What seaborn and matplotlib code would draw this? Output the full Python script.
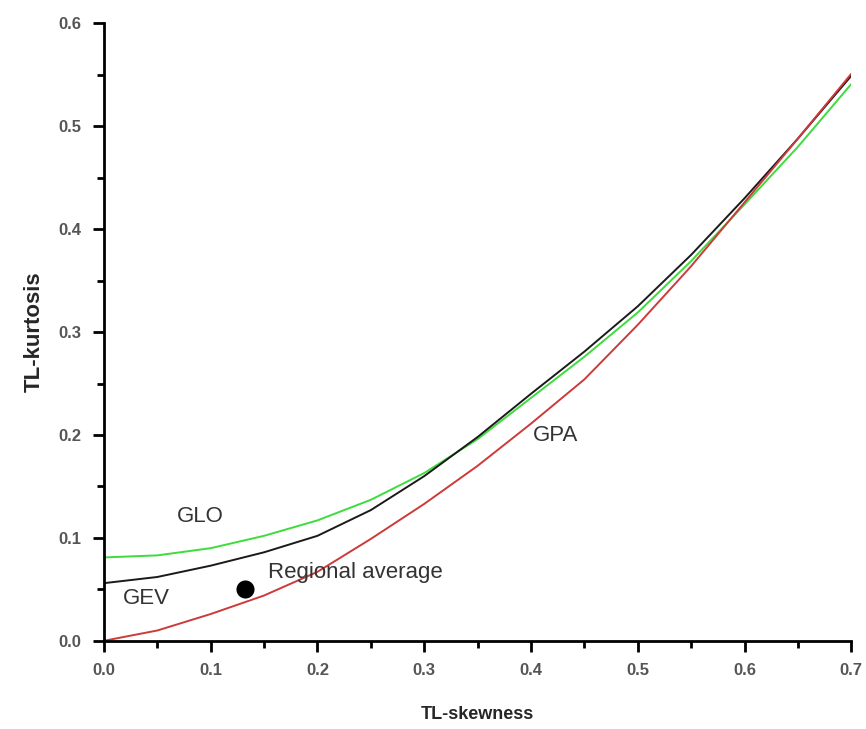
import numpy as np
import pandas as pd
import matplotlib
matplotlib.use("Agg")
import matplotlib.pyplot as plt
import seaborn as sns
from matplotlib.ticker import MultipleLocator, FormatStrFormatter

# TL-skewness grid and TL-kurtosis
skew = [0.0, 0.05, 0.10, 0.15, 0.20, 0.25, 0.30, 0.35, 0.40, 0.45, 0.50, 0.55, 0.60, 0.65, 0.70]
glo = [0.081, 0.083, 0.090, 0.102, 0.117, 0.137, 0.163, 0.196, 0.236, 0.276, 0.319, 0.369, 0.424, 0.480, 0.541]
gev = [0.056, 0.062, 0.073, 0.086, 0.102, 0.127, 0.160, 0.198, 0.240, 0.281, 0.325, 0.375, 0.430, 0.488, 0.549]
gpa = [0.000, 0.010, 0.026, 0.044, 0.067, 0.099, 0.133, 0.170, 0.211, 0.254, 0.307, 0.364, 0.426, 0.488, 0.551]

reg_skew = [0.132]
reg_kurt = [0.050]

curves = pd.DataFrame({
    "skew": skew * 3,
    "kurt": glo + gev + gpa,
    "dist": ["GLO"] * len(skew) + ["GEV"] * len(skew) + ["GPA"] * len(skew),
})
colors = {"GLO": "#3ddc3d", "GEV": "#1a1a1a", "GPA": "#cc3a3a"}

sns.set_style("ticks")
plt.rcParams["font.family"] = ["Liberation Sans", "DejaVu Sans"]

fig = plt.figure(figsize=(8.66, 7.29), dpi=100)
ax = fig.add_axes([0.120, 0.121, 0.863, 0.847])

sns.lineplot(data=curves, x="skew", y="kurt", hue="dist", palette=colors,
             linewidth=1.4, legend=False, ax=ax, sort=False)
sns.scatterplot(x=reg_skew, y=reg_kurt, color="black", s=200, ax=ax, zorder=5)

txt = dict(fontsize=16, color="#333333", va="center")
ax.text(0.090, 0.121, "GLO", ha="center", **txt)
ax.text(0.040, 0.041, "GEV", ha="center", **txt)
ax.text(0.154, 0.066, "Regional average", ha="left", **txt)
ax.text(0.423, 0.199, "GPA", ha="center", **txt)

ax.set_xlim(0, 0.7)
ax.set_ylim(0, 0.6)
ax.xaxis.set_major_locator(MultipleLocator(0.1))
ax.xaxis.set_minor_locator(MultipleLocator(0.05))
ax.yaxis.set_major_locator(MultipleLocator(0.1))
ax.yaxis.set_minor_locator(MultipleLocator(0.05))
ax.xaxis.set_major_formatter(FormatStrFormatter("%.1f"))
ax.yaxis.set_major_formatter(FormatStrFormatter("%.1f"))

ax.tick_params(which="major", length=8, width=2, color="black", labelsize=12,
               labelcolor="#555555", pad=8)
ax.tick_params(which="minor", length=5, width=2, color="black")
for lab in ax.get_xticklabels() + ax.get_yticklabels():
    lab.set_fontweight("bold")

for s in ["left", "bottom"]:
    ax.spines[s].set_linewidth(2)
    ax.spines[s].set_color("black")
sns.despine(ax=ax)

ax.set_xlabel("TL-skewness", fontsize=13, fontweight="bold", labelpad=20)
ax.set_ylabel("TL-kurtosis", fontsize=16, fontweight="bold", labelpad=10)

fig.savefig("out.png", dpi=100)
